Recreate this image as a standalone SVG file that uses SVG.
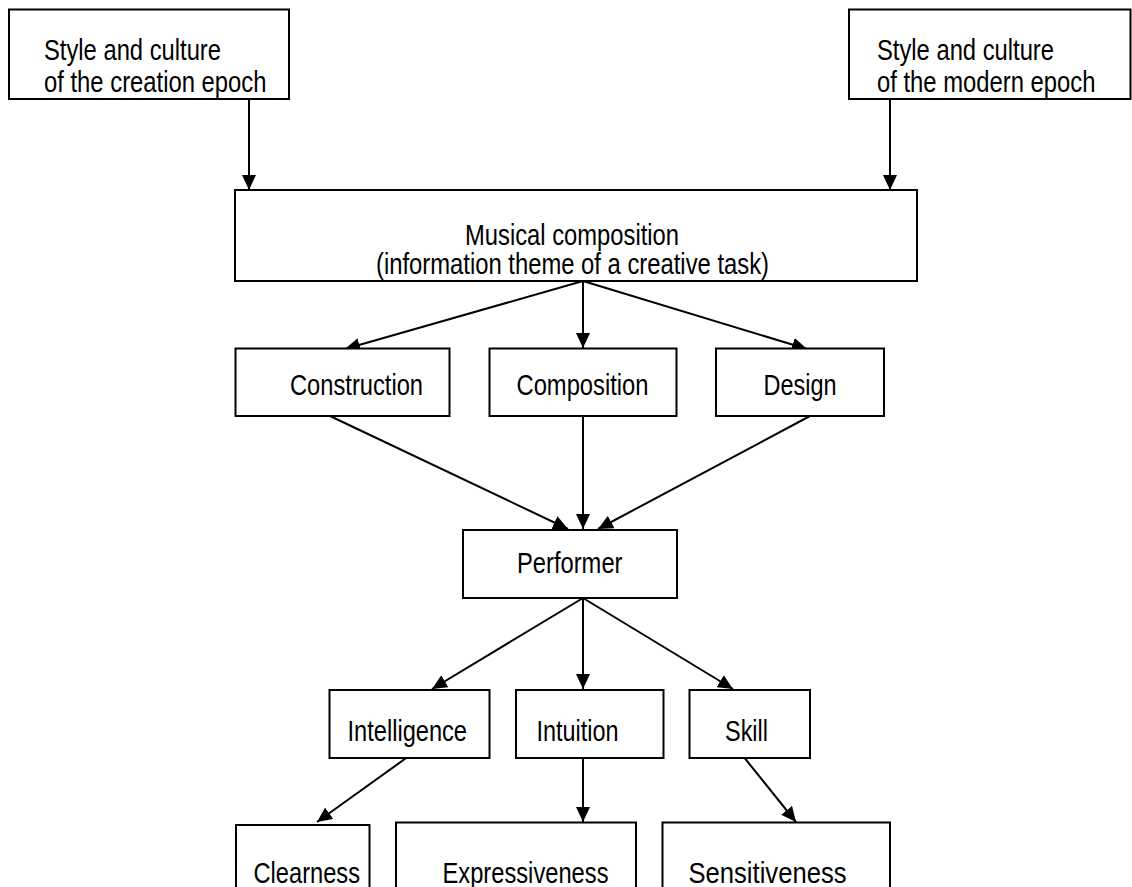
<svg xmlns="http://www.w3.org/2000/svg" width="1132" height="887" viewBox="0 0 1132 887">
<style>
.box{fill:#fff;stroke:#000;stroke-width:2}
.t{font-family:"Liberation Sans",Arial,sans-serif;font-size:29px;fill:#000}
.c{text-anchor:middle}
.ln{stroke:#000;stroke-width:2;fill:none;marker-end:url(#ah)}
</style>
<defs>
<marker id="ah" markerUnits="userSpaceOnUse" markerWidth="16" markerHeight="14" refX="15" refY="7" orient="auto">
<path d="M0,0 L15,7 L0,14 z" fill="#000"/>
</marker>
</defs>
<rect width="1132" height="887" fill="#fff"/>
<g id="connectors">
<line class="ln" x1="249" y1="99" x2="249" y2="190"/>
<line class="ln" x1="890" y1="99" x2="890" y2="190"/>
<line class="ln" x1="583" y1="281" x2="345" y2="349"/>
<line class="ln" x1="583" y1="281" x2="583" y2="348"/>
<line class="ln" x1="583" y1="281" x2="807" y2="349"/>
<line class="ln" x1="330" y1="416" x2="568" y2="529"/>
<line class="ln" x1="583" y1="416" x2="583" y2="529"/>
<line class="ln" x1="810" y1="416" x2="598" y2="529"/>
<line class="ln" x1="583" y1="598" x2="432" y2="689"/>
<line class="ln" x1="583" y1="598" x2="583" y2="689"/>
<line class="ln" x1="583" y1="598" x2="733" y2="689"/>
<line class="ln" x1="409" y1="756" x2="317" y2="822"/>
<line class="ln" x1="583" y1="758" x2="583" y2="822"/>
<line class="ln" x1="743" y1="756" x2="796" y2="822"/>
</g>
<g id="n-creation">
<rect class="box" x="9" y="9.5" width="280" height="89.5"/>
<text class="t" x="44" y="60" textLength="177" lengthAdjust="spacingAndGlyphs">Style and culture</text>
<text class="t" x="44" y="92" textLength="222.5" lengthAdjust="spacingAndGlyphs">of the creation epoch</text>
</g>
<g id="n-modern">
<rect class="box" x="849" y="9.5" width="281.5" height="89.5"/>
<text class="t" x="877" y="60" textLength="177" lengthAdjust="spacingAndGlyphs">Style and culture</text>
<text class="t" x="877" y="92" textLength="218.5" lengthAdjust="spacingAndGlyphs">of the modern epoch</text>
</g>
<g id="n-musical">
<rect class="box" x="235" y="190" width="682" height="91"/>
<text class="t c" x="572" y="245" textLength="214" lengthAdjust="spacingAndGlyphs">Musical composition</text>
<text class="t c" x="572.5" y="274" textLength="393" lengthAdjust="spacingAndGlyphs">(information theme of a creative task)</text>
</g>
<g id="n-construction">
<rect class="box" x="235.5" y="348.5" width="214" height="67.5"/>
<text class="t" x="290" y="395" textLength="133" lengthAdjust="spacingAndGlyphs">Construction</text>
</g>
<g id="n-composition">
<rect class="box" x="489.5" y="348.5" width="187" height="67.5"/>
<text class="t" x="516.5" y="395" textLength="132" lengthAdjust="spacingAndGlyphs">Composition</text>
</g>
<g id="n-design">
<rect class="box" x="716" y="348.5" width="168" height="67.5"/>
<text class="t" x="763.5" y="395" textLength="73" lengthAdjust="spacingAndGlyphs">Design</text>
</g>
<g id="n-performer">
<rect class="box" x="463" y="530" width="214" height="68"/>
<text class="t" x="517" y="573" textLength="105.5" lengthAdjust="spacingAndGlyphs">Performer</text>
</g>
<g id="n-intelligence">
<rect class="box" x="329.5" y="690" width="160" height="68"/>
<text class="t" x="347.5" y="741" textLength="119.5" lengthAdjust="spacingAndGlyphs">Intelligence</text>
</g>
<g id="n-intuition">
<rect class="box" x="516" y="690" width="147.5" height="68"/>
<text class="t" x="536.5" y="741" textLength="82" lengthAdjust="spacingAndGlyphs">Intuition</text>
</g>
<g id="n-skill">
<rect class="box" x="689.5" y="690" width="120.5" height="68"/>
<text class="t" x="725" y="741" textLength="43" lengthAdjust="spacingAndGlyphs">Skill</text>
</g>
<g id="n-clearness">
<rect class="box" x="236" y="825" width="133.5" height="80"/>
<text class="t" x="253.5" y="883" textLength="106.5" lengthAdjust="spacingAndGlyphs">Clearness</text>
</g>
<g id="n-expressiveness">
<rect class="box" x="396" y="822.5" width="240" height="80"/>
<text class="t" x="442.5" y="883" textLength="166" lengthAdjust="spacingAndGlyphs">Expressiveness</text>
</g>
<g id="n-sensitiveness">
<rect class="box" x="662.5" y="822.5" width="227.5" height="80"/>
<text class="t" x="688.5" y="883" textLength="158" lengthAdjust="spacingAndGlyphs">Sensitiveness</text>
</g>
</svg>
